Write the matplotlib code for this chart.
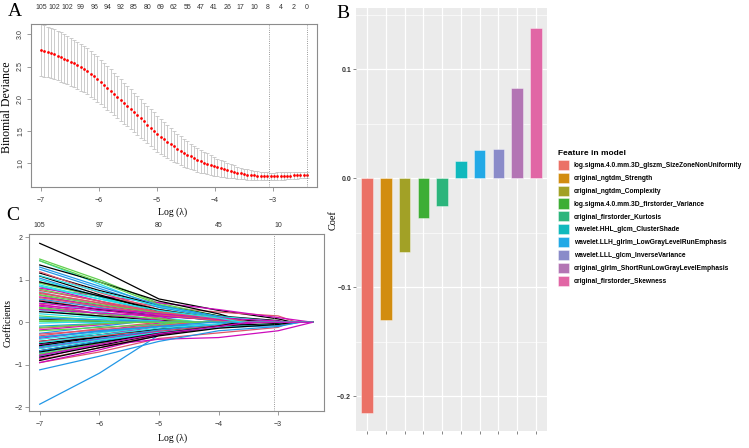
import numpy as np
import matplotlib
matplotlib.use('Agg')
import matplotlib.pyplot as plt

# ---- panel A: cross-validated binomial deviance ----
cv_mean = [2.757, 2.742, 2.726, 2.709, 2.690, 2.669, 2.647, 2.624, 2.600,
           2.574, 2.547, 2.519, 2.490, 2.458, 2.424, 2.388, 2.350,
           2.307, 2.262, 2.216, 2.170, 2.123, 2.076, 2.028, 1.980,
           1.932, 1.884, 1.837, 1.790, 1.742, 1.694, 1.647, 1.600,
           1.552, 1.504, 1.457, 1.410, 1.372, 1.334, 1.297, 1.260,
           1.227, 1.194, 1.162, 1.130, 1.104, 1.079, 1.054, 1.030,
           1.010, 0.990, 0.970, 0.950, 0.935, 0.920, 0.905, 0.890,
           0.877, 0.864, 0.852, 0.840, 0.832, 0.824, 0.817, 0.810,
           0.806, 0.802, 0.798, 0.795, 0.795, 0.796, 0.798, 0.800,
           0.802, 0.805, 0.807, 0.810, 0.812, 0.815, 0.817, 0.820]
cv_sd = [0.400, 0.397, 0.394, 0.391, 0.388, 0.385, 0.382, 0.379, 0.376,
         0.373, 0.370, 0.367, 0.364, 0.361, 0.358, 0.355, 0.352, 0.350,
         0.346, 0.342, 0.338, 0.334, 0.330, 0.326, 0.322, 0.318, 0.314,
         0.310, 0.306, 0.302, 0.298, 0.294, 0.290, 0.286, 0.283, 0.280,
         0.272, 0.264, 0.256, 0.248, 0.240, 0.232, 0.224, 0.216, 0.208,
         0.200, 0.192, 0.184, 0.176, 0.168, 0.160, 0.152, 0.145,
         0.137, 0.129, 0.121, 0.114, 0.107, 0.100, 0.094, 0.088, 0.083,
         0.078, 0.074, 0.070, 0.067, 0.064, 0.062, 0.061, 0.060,
         0.059, 0.058, 0.057, 0.056, 0.055, 0.054, 0.053, 0.052, 0.051,
         0.050, 0.050]
cv_loglam_first, cv_loglam_last = -7.0, -2.41
cv_top_counts = [105, 102, 102, 99, 96, 94, 92, 85, 80, 69, 62, 55, 47, 41,
                 26, 17, 10, 8, 4, 2, 0]
log_lambda_min = -3.07
log_lambda_1se = -2.41

# ---- panel C: coefficient paths (values at log lambda -7..-3, zero point) ----
path_knots = [-7, -6, -5, -4, -3]
path_end = -2.42
paths = [
    (1.86, 1.25, 0.55, 0.28, 0.08, -2.75),
    (0.95, 0.62, 0.36, 0.24, 0.15, -2.69),
    (1.49, 1.00, 0.45, 0.15, 0.00, -3.40),
    (-1.93, -1.20, -0.30, -0.12, -0.08, -2.62),
    (1.45, 0.90, 0.35, 0.10, 0.00, -3.60),
    (0.80, 0.62, 0.46, 0.30, 0.11, -2.42),
    (1.35, 0.95, 0.50, 0.20, 0.00, -3.50),
    (-0.95, -0.70, -0.38, -0.25, -0.12, -2.80),
    (0.92, 0.60, 0.30, 0.10, 0.00, -3.70),
    (1.25, 0.80, 0.35, 0.12, 0.00, -3.80),
    (0.88, 0.55, 0.25, 0.05, 0.00, -3.90),
    (-0.75, -0.55, -0.40, -0.36, -0.20, -2.42),
    (1.16, 0.75, 0.40, 0.15, 0.04, -2.90),
    (1.19, 0.70, 0.30, 0.08, 0.00, -3.60),
    (0.78, 0.50, 0.20, 0.02, 0.00, -3.95),
    (-1.12, -0.80, -0.45, -0.20, -0.10, -2.65),
    (0.72, 0.40, 0.12, 0.00, 0.00, -4.30),
    (-0.85, -0.50, -0.15, 0.00, 0.00, -4.40),
    (1.09, 0.65, 0.25, 0.05, 0.00, -3.80),
    (-0.61, -0.40, -0.20, -0.08, 0.00, -3.50),
    (0.64, 0.35, 0.10, 0.00, 0.00, -4.50),
    (1.04, 0.60, 0.20, 0.02, 0.00, -3.90),
    (-0.73, -0.45, -0.20, -0.05, 0.00, -3.70),
    (0.84, 0.50, 0.15, 0.00, 0.00, -4.60),
    (-0.67, -0.45, -0.30, -0.12, -0.04, -2.85),
    (0.53, 0.30, 0.10, 0.00, 0.00, -4.60),
    (-0.57, -0.30, -0.08, 0.00, 0.00, -4.70),
    (-0.79, -0.50, -0.25, -0.10, 0.00, -3.40),
    (0.49, 0.25, 0.05, 0.00, 0.00, -4.80),
    (-0.53, -0.30, -0.10, 0.00, 0.00, -4.50),
    (-0.50, -0.35, -0.20, -0.08, 0.00, -3.60),
    (0.43, 0.20, 0.02, 0.00, 0.00, -4.90),
    (0.33, 0.15, 0.00, 0.00, 0.00, -5.20),
    (-0.46, -0.25, -0.05, 0.00, 0.00, -4.80),
    (0.29, 0.12, 0.00, 0.00, 0.00, -5.30),
    (-0.38, -0.20, -0.02, 0.00, 0.00, -4.90),
    (0.25, 0.15, 0.05, 0.00, 0.00, -4.60),
    (-0.32, -0.15, 0.00, 0.00, 0.00, -5.00),
    (0.15, 0.05, 0.00, 0.00, 0.00, -5.60),
    (-0.26, -0.10, 0.00, 0.00, 0.00, -5.40),
    (0.12, 0.05, 0.00, 0.00, 0.00, -5.80),
    (-0.18, -0.06, 0.00, 0.00, 0.00, -5.50),
    (0.07, 0.02, 0.00, 0.00, 0.00, -5.90),
    (-0.14, -0.05, 0.00, 0.00, 0.00, -5.70),
    (0.02, 0.00, 0.00, 0.00, 0.00, -6.20),
    (-0.09, -0.03, 0.00, 0.00, 0.00, -5.90),
    (-0.02, 0.00, 0.00, 0.00, 0.00, -6.50),
    (0.38, 0.20, 0.05, 0.00, 0.00, -4.80),
    (-0.55, -0.35, -0.15, -0.05, 0.00, -3.80),
    (0.70, 0.45, 0.20, 0.05, 0.00, -3.80),
    (1.45, 0.95, 0.42, 0.12, 0.00, -3.60),
    (-0.67, -0.45, -0.25, -0.10, 0.00, -3.50),
    (1.00, 0.60, 0.22, 0.05, 0.00, -3.80),
    (-0.61, -0.40, -0.22, -0.10, 0.00, -3.30),
    (-0.45, -0.30, -0.18, -0.08, -0.03, -2.90),
    (-0.88, -0.60, -0.30, -0.12, 0.00, -3.60),
    (0.35, 0.20, 0.08, 0.00, 0.00, -4.30),
    (0.55, 0.35, 0.15, 0.05, 0.00, -3.70),
    (-0.40, -0.25, -0.10, 0.00, 0.00, -4.20),
    (0.60, 0.40, 0.20, 0.08, 0.00, -3.50),
    (0.50, 0.30, 0.15, 0.06, 0.02, -2.85),
    (-0.28, -0.18, -0.08, 0.00, 0.00, -4.40),
    (-0.75, -0.50, -0.25, -0.08, 0.00, -3.70),
    (-0.35, -0.20, -0.10, -0.04, 0.00, -3.50),
    (0.20, 0.10, 0.03, 0.00, 0.00, -4.90),
    (-0.95, -0.65, -0.30, -0.10, 0.00, -3.60),
    (0.95, 0.62, 0.30, 0.08, 0.00, -3.75),
    (-0.45, -0.32, -0.20, -0.07, 0.00, -3.60),
    (0.65, 0.42, 0.22, 0.08, 0.00, -3.55),
    (-0.58, -0.38, -0.18, -0.05, 0.00, -3.85),
    (1.10, 0.72, 0.38, 0.14, 0.02, -2.95),
    (0.40, 0.28, 0.16, 0.06, 0.00, -3.60),
    (-0.82, -0.55, -0.28, -0.10, 0.00, -3.55),
    (0.75, 0.50, 0.25, 0.08, 0.00, -3.75),
    (-0.20, -0.12, -0.05, 0.00, 0.00, -4.60),
    (0.10, 0.06, 0.02, 0.00, 0.00, -4.80),
    (-0.62, -0.42, -0.24, -0.12, -0.05, -2.80),
    (0.30, 0.22, 0.14, 0.06, 0.00, -3.40),
    (-0.70, -0.48, -0.26, -0.09, 0.00, -3.65),
    (0.58, 0.38, 0.18, 0.04, 0.00, -3.85),
    (-0.12, -0.04, 0.00, 0.00, 0.00, -5.30),
    (1.30, 0.85, 0.40, 0.13, 0.00, -3.45),
    (-0.48, -0.30, -0.14, -0.04, 0.00, -3.90),
    (0.45, 0.32, 0.20, 0.10, 0.03, -2.80),
    (-0.90, -0.60, -0.32, -0.14, -0.05, -2.75),
    (0.68, 0.46, 0.24, 0.10, 0.00, -3.40),
    (0.05, 0.03, 0.00, 0.00, 0.00, -5.60),
    (-0.35, -0.22, -0.10, -0.02, 0.00, -4.10),
    (0.85, 0.55, 0.28, 0.10, 0.00, -3.60),
    (-0.78, -0.52, -0.27, -0.10, 0.00, -3.50),
]
path_top_pos = [-7, -6, -5, -4, -3]
path_top_counts = [105, 97, 80, 45, 10]
r_palette = ['#000000', '#DF536B', '#61D04F', '#2297E6', '#28E2E5', '#CD0BBC']

# ---- panel B: selected features ----
features = ['log.sigma.4.0.mm.3D_glszm_SizeZoneNonUniformity',
            'original_ngtdm_Strength',
            'original_ngtdm_Complexity',
            'log.sigma.4.0.mm.3D_firstorder_Variance',
            'original_firstorder_Kurtosis',
            'wavelet.HHL_glcm_ClusterShade',
            'wavelet.LLH_glrlm_LowGrayLevelRunEmphasis',
            'wavelet.LLL_glcm_InverseVariance',
            'original_glrlm_ShortRunLowGrayLevelEmphasis',
            'original_firstorder_Skewness']
coefs = [-0.2156, -0.1306, -0.0679, -0.0367, -0.0254,
         0.0159, 0.0253, 0.0266, 0.0826, 0.1376]
bar_colors = ['#EB7166', '#D28D10', '#A2A126', '#3DAE35', '#2CB57C',
              '#10B9BD', '#22A9E6', '#8A8BC9', '#B375B4', '#E166A5']

W, H = 749, 448
fig = plt.figure(figsize=(W / 100, H / 100), dpi=100)
serif = 'Liberation Serif'
sans = 'Liberation Sans'
frame_col = '#8c8c8c'


def px_axes(l, t, r, b):
    return fig.add_axes([l / W, 1 - b / H, (r - l) / W, (b - t) / H])


def r_style(ax):
    for s in ax.spines.values():
        s.set_color(frame_col)
        s.set_linewidth(0.8)
    ax.tick_params(direction='out', length=3, width=0.6, color=frame_col,
                   labelsize=5, labelcolor='#333333')
    for lab in ax.get_xticklabels() + ax.get_yticklabels():
        lab.set_family(sans)


# panel A
axA = px_axes(31, 24, 317, 187)
loglam = np.linspace(cv_loglam_first, cv_loglam_last, len(cv_mean))
axA.errorbar(loglam, cv_mean, yerr=cv_sd, fmt='none', ecolor='#c4c4c4',
             elinewidth=0.6, capsize=1.6, capthick=0.6)
axA.plot(loglam, cv_mean, 'o', color='#FF0000', ms=2.0, mew=0)
axA.axvline(log_lambda_min, color='#777777', ls=':', lw=0.6)
axA.axvline(log_lambda_1se, color='#777777', ls=':', lw=0.6)
axA.set_xlim(-7.17, -2.24)
axA.set_ylim(0.63, 3.16)
axA.set_xticks([-7, -6, -5, -4, -3])
axA.set_yticks([1.0, 1.5, 2.0, 2.5, 3.0])
r_style(axA)
axA.tick_params(axis='x', pad=4)
axA.tick_params(axis='y', pad=2)
for lab in axA.get_yticklabels():
    lab.set_rotation(90)
    lab.set_va('center')
topA = axA.secondary_xaxis('top')
topA.set_ticks(loglam[::4], [str(c) for c in cv_top_counts])
topA.tick_params(length=0, pad=9, labelsize=5, labelcolor='#333333')
topA.spines['top'].set_visible(False)
for lab in topA.get_xticklabels():
    lab.set_family(sans)

fig.text(7 / W, 1 - 107 / H, 'Binomial Deviance', family=serif, fontsize=8.5,
         rotation=90, ha='center', va='center')
fig.text(173 / W, 1 - 212 / H, 'Log (\u03bb)', family=serif, fontsize=7,
         ha='center', va='center')
fig.text(15 / W, 1 - 11 / H, 'A', family=serif, fontsize=14,
         ha='center', va='center')

# panel C
axC = px_axes(29, 234, 324, 411)
for i, row in enumerate(paths):
    vals, x0 = row[:5], row[5]
    xs = [k for k in path_knots if k < x0]
    ys = list(vals[:len(xs)])
    xs += [x0, path_end]
    ys += [0.0, 0.0]
    axC.plot(xs, ys, color=r_palette[i % 6], lw=0.9)
axC.axvline(log_lambda_min, color='#777777', ls=':', lw=0.6)
axC.set_xlim(-7.18, -2.23)
axC.set_ylim(-2.09, 2.08)
axC.set_xticks([-7, -6, -5, -4, -3])
axC.set_yticks([-2, -1, 0, 1, 2])
r_style(axC)
axC.tick_params(axis='x', pad=4)
axC.tick_params(axis='y', pad=1.5)
topC = axC.secondary_xaxis('top')
topC.set_ticks(path_top_pos, [str(c) for c in path_top_counts])
topC.tick_params(length=0, pad=3.5, labelsize=5, labelcolor='#333333')
topC.spines['top'].set_visible(False)
for lab in topC.get_xticklabels():
    lab.set_family(sans)

fig.text(8 / W, 1 - 323 / H, 'Coefficients', family=serif, fontsize=7,
         rotation=90, ha='center', va='center')
fig.text(173 / W, 1 - 438 / H, 'Log (\u03bb)', family=serif, fontsize=7,
         ha='center', va='center')
fig.text(13 / W, 1 - 215 / H, 'C', family=serif, fontsize=14,
         ha='center', va='center')

# panel B
axB = px_axes(356, 8, 547, 431)
axB.set_facecolor('#EBEBEB')
xpos = np.arange(1, len(coefs) + 1)
for x, c, col, name in zip(xpos, coefs, bar_colors, features):
    axB.bar(x, c, width=0.62, color=col, edgecolor=(1, 1, 1, 0.45),
            linewidth=0.6, label=name, zorder=3)
axB.set_xlim(0.4, len(coefs) + 0.6)
axB.set_ylim(-0.232, 0.156)
axB.set_xticks(xpos)
axB.set_xticklabels([])
axB.set_yticks([-0.2, -0.1, 0.0, 0.1])
axB.set_yticks([-0.15, -0.05, 0.05, 0.15], minor=True)
axB.grid(which='major', color='white', lw=0.9, zorder=0)
axB.grid(which='minor', axis='y', color='white', lw=0.45, zorder=0)
axB.set_axisbelow(True)
for s in axB.spines.values():
    s.set_visible(False)
axB.tick_params(axis='both', which='major', length=2, width=0.5,
                color='#555555', labelsize=5, labelcolor='#333333', pad=1.5)
axB.tick_params(which='minor', length=0)
for lab in axB.get_yticklabels():
    lab.set_family(sans)
    lab.set_fontweight('bold')
fig.text(333.5 / W, 1 - 220 / H, 'Coef', family=serif, fontsize=7.4,
         rotation=90, ha='center', va='center')
fig.text(343 / W, 1 - 13 / H, 'B', family=serif, fontsize=14,
         ha='center', va='center')

leg = axB.legend(loc='upper left', bbox_to_anchor=(558 / W, 1 - 150 / H),
                 bbox_transform=fig.transFigure, frameon=False,
                 prop={'family': sans, 'size': 4.8, 'weight': 'bold'},
                 title='Feature in model',
                 title_fontproperties={'family': sans, 'size': 6,
                                       'weight': 'bold'},
                 handlelength=1.65, handleheight=1.95, labelspacing=0.42,
                 handletextpad=0.75, borderpad=0, borderaxespad=0)
leg._legend_box.align = 'left'

fig.savefig('out.png', dpi=100)
